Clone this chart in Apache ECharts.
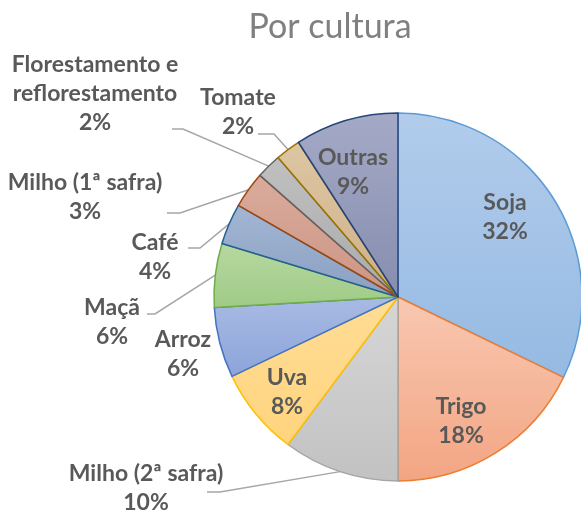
<!DOCTYPE html>
<html><head><meta charset="utf-8">
<script src="https://cdn.jsdelivr.net/npm/echarts@6/dist/echarts.min.js"></script>
<style>html,body{margin:0;padding:0;background:#fff}#c{width:581px;height:530px}</style>
</head><body><div id="c"></div>
<script>
const categories = ['Soja','Trigo','Milho (2ª safra)','Uva','Arroz','Maçã','Café','Milho (1ª safra)','Florestamento e reflorestamento','Tomate','Outras'];
const shares = [32.2, 17.8, 10.2, 7.7, 6.2, 5.6, 3.6, 3.2, 2.2, 2.2, 9.1];
const fillTop = ['#B2CCEB','#F8C8B1','#D6D6D6','#FFDD96','#A9BBE4','#B7D8A2','#A3B6D3','#DAAB9C','#C0C0C0','#DEC6A2','#A4AAC6'];
const fillBottom = ['#95BAE3','#F3A583','#C2C2C2','#FFD47E','#8CA4DA','#9FCB85','#8AA0C3','#CC9585','#AAAAAA','#CDB08A','#868DAE'];
const borderColors = ['#5B9BD5','#ED7D31','#A5A5A5','#FFC000','#4472C4','#70AD47','#255E91','#9E480E','#636363','#997300','#264478'];

const CX = 398, CY = 297, R = 184;
const FONT = 'Lato';
const insideNames = ['Soja','Trigo','Uva','Outras'];
// label block centres (and leader attach points for outside labels)
const labelPlacement = {
  'Soja': {x: 505, y: 217},
  'Trigo': {x: 461, y: 421},
  'Uva': {x: 287, y: 392},
  'Outras': {x: 353, y: 172},
  'Arroz': {x: 183, y: 354},
  'Maçã': {x: 112, y: 322, ax: 147, ay: 314, len: 8},
  'Café': {x: 155, y: 257, ax: 188, ay: 248, len: 12},
  'Milho (1ª safra)': {x: 85, y: 197, ax: 167, ay: 213, len: 13},
  'Florestamento e reflorestamento': {x: 95, y: 94, ax: 172, ay: 129, len: 11},
  'Tomate': {x: 238, y: 112, ax: 258, ay: 134, len: 16},
  'Milho (2ª safra)': {x: 146, y: 488, ax: 207, ay: 492, len: 13}
};

const total = shares.reduce((a, b) => a + b, 0);
function midAngle(i) {
  let cum = 0;
  for (let k = 0; k < i; k++) cum += shares[k];
  return 2 * Math.PI * (cum + shares[i] / 2) / total;
}
function polar(theta, r) {
  return [CX + r * Math.sin(theta), CY - r * Math.cos(theta)];
}

const data = categories.map((name, i) => {
  const inside = insideNames.indexOf(name) >= 0;
  const pl = labelPlacement[name];
  return {
    name: name,
    value: shares[i],
    itemStyle: {
      color: {type: 'linear', x: 0, y: 0, x2: 0, y2: 1,
        colorStops: [{offset: 0, color: fillTop[i]}, {offset: 1, color: fillBottom[i]}]},
      borderColor: borderColors[i],
      borderWidth: 1.5
    },
    label: {position: inside ? 'inside' : 'outside'},
    labelLine: {show: !inside && pl.ax != null}
  };
});

const chart = echarts.init(document.getElementById('c'), null, {renderer: 'canvas'});
chart.setOption({
  animation: false,
  backgroundColor: '#ffffff',
  title: {
    text: 'Por cultura',
    left: 330, top: 8, textAlign: 'center', padding: 0,
    textStyle: {fontFamily: FONT, fontSize: 34, fontWeight: 'normal', color: '#808080', lineHeight: 38}
  },
  series: [{
    type: 'pie',
    center: [CX, CY],
    radius: [0, R],
    startAngle: 90,
    clockwise: true,
    percentPrecision: 0,
    avoidLabelOverlap: false,
    data: data,
    label: {
      show: true,
      formatter: p => p.name.replace('e reflorestamento', 'e\nreflorestamento') + '\n' + p.percent + '%',
      fontFamily: FONT, fontSize: 23, fontWeight: 'bold', color: '#595959',
      lineHeight: 29, align: 'center'
    },
    labelLine: {lineStyle: {color: '#A6A6A6', width: 1.5}, length: 10, length2: 10},
    labelLayout: function (params) {
      const i = params.dataIndex;
      const name = categories[i];
      const pl = labelPlacement[name];
      const res = {x: pl.x, y: pl.y, align: 'center', verticalAlign: 'middle'};
      if (pl.ax != null) {
        res.labelLinePoints = [polar(midAngle(i), R), [pl.ax + pl.len, pl.ay], [pl.ax, pl.ay]];
      }
      return res;
    }
  }]
});
</script>
</body></html>
